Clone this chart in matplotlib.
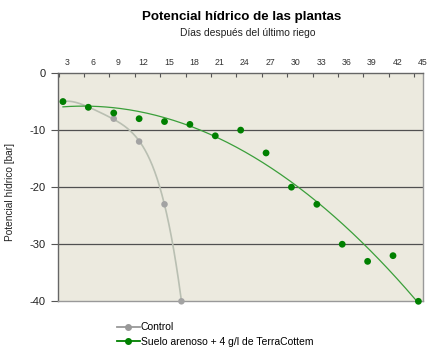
import numpy as np
import matplotlib
matplotlib.use("Agg")
import matplotlib.pyplot as plt
from matplotlib.lines import Line2D

plt.rcParams["font.family"] = ["Liberation Sans", "DejaVu Sans"]

# data
control_days = [3, 6, 9, 12, 15, 17]
control_psi = [-5, -6, -8, -12, -23, -40]

tc_days = [3, 6, 9, 12, 15, 18, 21, 24, 27, 30, 33, 36, 39, 42, 45]
tc_psi = [-5, -6, -7, -8, -8.5, -9, -11, -10, -14, -20, -23, -30, -33, -32, -40]

day_labels = list(range(3, 46, 3))
y_ticks = [0, -10, -20, -30, -40]

GRAY_PT = "#a3a3a3"
GRAY_LN = "#b9bfb2"
GREEN_PT = "#008000"
GREEN_LN = "#3a9f3a"

fig = plt.figure(figsize=(4.4, 3.52), dpi=100)
ax = fig.add_axes([0.1325, 0.1440, 0.8280, 0.6485])
ax.set_facecolor("#ecead f".replace(" ", ""))

# polynomial trendlines (Excel-style)
xc = np.linspace(control_days[0], control_days[-1], 200)
pc = np.polyfit(control_days, control_psi, 4)
ax.plot(xc, np.polyval(pc, xc), color=GRAY_LN, lw=1.2, zorder=3)

xt = np.linspace(tc_days[0], tc_days[-1], 200)
pt = np.polyfit(tc_days, tc_psi, 2)
ax.plot(xt, np.polyval(pt, xt), color=GREEN_LN, lw=0.9, zorder=3)

ax.scatter(control_days, control_psi, s=22, color=GRAY_PT, zorder=4,
           edgecolors="none", clip_on=False)
ax.scatter(tc_days, tc_psi, s=24, color=GREEN_PT, zorder=5,
           edgecolors="none", clip_on=False)

ax.set_xlim(2.45, 45.45)
ax.set_ylim(-40, 0)

# top axis, Excel style: tick marks between the day labels
ax.xaxis.tick_top()
ax.set_xticks([d + 0.5 for d in day_labels])
ax.set_xticklabels([str(d) for d in day_labels], fontsize=6.3, color="#333333")
ax.set_xticks([d - 0.5 for d in day_labels], minor=True)
ax.tick_params(axis="x", which="major", length=0, pad=4)
ax.tick_params(axis="x", which="minor", direction="in", length=3,
               color="#555555", width=0.8, top=True, bottom=False)

ax.set_yticks(y_ticks)
ax.set_yticklabels([str(v) for v in y_ticks], fontsize=8, color="#222222")
ax.tick_params(axis="y", direction="out", length=5, width=0.8,
               color="#555555", pad=4)

for v in [-10, -20, -30]:
    ax.axhline(v, color="#505050", lw=0.9, zorder=2)

for side in ["left", "top"]:
    ax.spines[side].set_color("#666666")
    ax.spines[side].set_linewidth(1.0)
for side in ["right", "bottom"]:
    ax.spines[side].set_color("#999999")
    ax.spines[side].set_linewidth(1.0)

ax.set_ylabel("Potencial hídrico [bar]", fontsize=7.3, color="#222222")
ax.yaxis.set_label_coords(-0.12, 0.48)

fig.text(0.549, 0.951, "Potencial hídrico de las plantas", fontsize=9.6,
         fontweight="bold", ha="center", va="center")
fig.text(0.563, 0.906, "Días después del último riego", fontsize=7.4,
         ha="center", va="center", color="#222222")

handles = [
    Line2D([], [], color="#999999", lw=1.3, marker="o", markersize=4),
    Line2D([], [], color=GREEN_PT, lw=1.3, marker="o", markersize=4),
]
fig.legend(handles, ["Control", "Suelo arenoso + 4 g/l de TerraCottem"],
           loc="upper left", bbox_to_anchor=(0.266, 0.084), frameon=False,
           fontsize=7.5, handlelength=2.2, handletextpad=0.1,
           labelspacing=0.45, borderaxespad=0, borderpad=0)

fig.savefig("out.png", dpi=100)
